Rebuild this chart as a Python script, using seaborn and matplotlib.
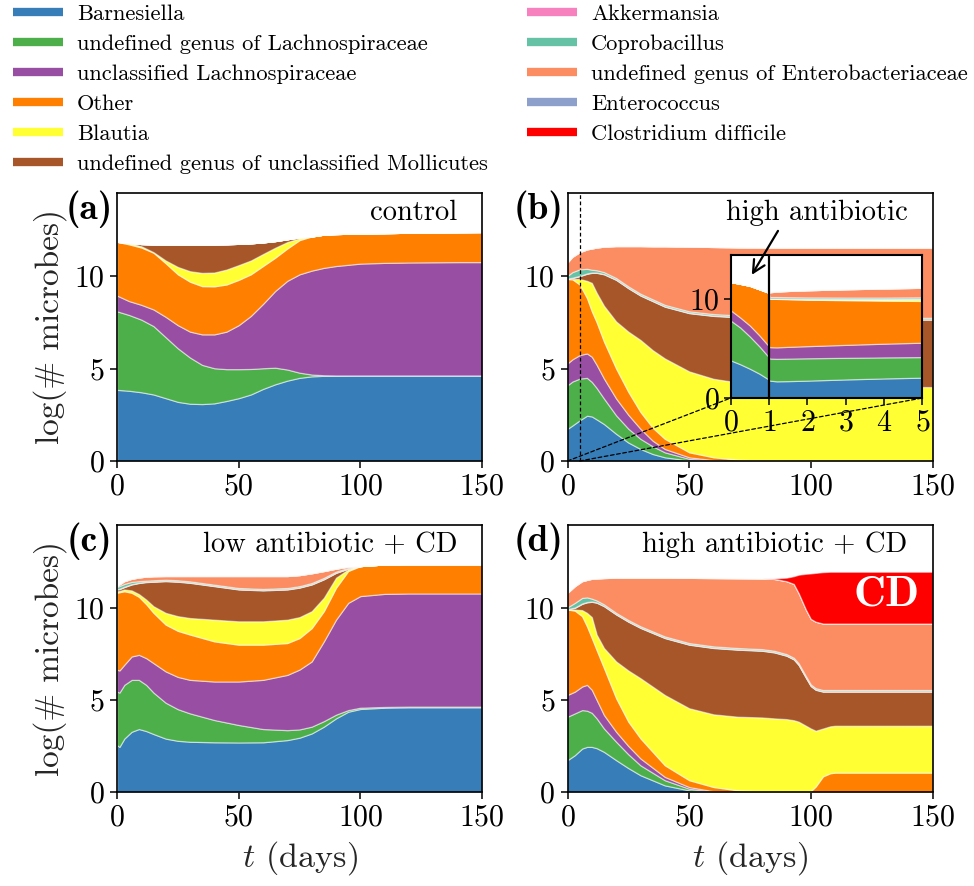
import numpy as np
import matplotlib
matplotlib.use("Agg")
import matplotlib.pyplot as plt
from matplotlib.lines import Line2D
from matplotlib.patches import ConnectionPatch
import seaborn as sns

# ---------------- data (cumulative tops of each layer; thin layers as thickness) ----------------
names = ["Barnesiella", "undefined genus of Lachnospiraceae", "unclassified Lachnospiraceae",
         "Other", "Blautia", "undefined genus of unclassified Mollicutes", "Akkermansia",
         "Coprobacillus", "undefined genus of Enterobacteriaceae", "Enterococcus",
         "Clostridium difficile"]

# (a) control
A_t = [0, 5, 10, 15, 20, 25, 30, 35, 40, 45, 50, 55, 60, 65, 70, 75, 80, 85, 90, 100, 110, 120, 130, 140, 150]
A_barn = [3.85, 3.8, 3.72, 3.6, 3.4, 3.2, 3.1, 3.08, 3.12, 3.25, 3.4, 3.6, 3.9, 4.15, 4.35, 4.5, 4.58, 4.61, 4.62, 4.63, 4.63, 4.63, 4.63, 4.63, 4.63]
A_lach = [8.1, 7.9, 7.65, 7.3, 6.7, 6.1, 5.6, 5.2, 5.02, 4.97, 4.97, 4.98, 5.02, 5.05, 4.95, 4.78, 4.68, 4.64, 4.63, 4.63, 4.63, 4.63, 4.63, 4.63, 4.63]
A_uncl = [8.95, 8.65, 8.45, 8.2, 7.8, 7.35, 7.0, 6.85, 6.85, 7.0, 7.35, 7.85, 8.5, 9.2, 9.75, 10.1, 10.3, 10.45, 10.55, 10.68, 10.72, 10.74, 10.75, 10.76, 10.76]
A_other = [11.86, 11.72, 11.55, 11.27, 10.7, 10.1, 9.7, 9.46, 9.45, 9.55, 9.8, 10.1, 10.55, 11.0, 11.5, 11.95, 12.15, 12.25, 12.28, 12.31, 12.33, 12.35, 12.37, 12.38, 12.39]
A_blaut = [11.86, 11.79, 11.62, 11.3, 10.85, 10.5, 10.27, 10.18, 10.2, 10.36, 10.6, 10.85, 11.2, 11.54, 11.85, 12.05, 12.15, 12.25, 12.28, 12.31, 12.33, 12.35, 12.37, 12.38, 12.39]
A_moll = [11.86, 11.8, 11.74, 11.72, 11.72, 11.72, 11.72, 11.72, 11.72, 11.73, 11.75, 11.78, 11.83, 11.9, 12.0, 12.1, 12.15, 12.25, 12.28, 12.31, 12.33, 12.35, 12.37, 12.38, 12.39]

# (b) high antibiotic
B_t = [0, 2, 5, 8, 10, 12, 15, 20, 25, 30, 35, 40, 50, 60, 70, 80, 90, 100, 110, 120, 130, 140, 150]
B_barn = [1.74, 1.92, 2.2, 2.45, 2.41, 2.25, 2.0, 1.47, 1.0, 0.65, 0.38, 0.2, 0.03, 0, 0, 0, 0, 0, 0, 0, 0, 0, 0]
B_lach = [4.1, 4.3, 4.46, 4.5, 4.28, 3.95, 3.38, 2.47, 1.75, 1.2, 0.8, 0.47, 0.12, 0.02, 0, 0, 0, 0, 0, 0, 0, 0, 0]
B_uncl = [5.28, 5.5, 5.73, 5.82, 5.64, 5.2, 4.46, 3.38, 2.5, 1.74, 1.1, 0.65, 0.2, 0.05, 0, 0, 0, 0, 0, 0, 0, 0, 0]
B_other = [9.85, 9.83, 9.55, 8.82, 8.1, 7.5, 6.46, 5.0, 3.74, 2.65, 1.8, 1.2, 0.47, 0.2, 0.07, 0.03, 0, 0, 0, 0, 0, 0, 0]
B_blaut = [9.85, 9.85, 9.85, 9.75, 9.64, 9.1, 8.4, 7.55, 7.0, 6.55, 6.0, 5.55, 4.85, 4.45, 4.25, 4.15, 4.1, 4.07, 4.05, 4.03, 4.02, 4.01, 4.0]
B_moll = [9.85, 9.9, 10.0, 10.13, 10.18, 10.18, 10.1, 9.8, 9.35, 8.95, 8.65, 8.35, 8.0, 7.85, 7.78, 7.74, 7.72, 7.7, 7.68, 7.67, 7.66, 7.65, 7.65]
B_akk = [0.02] * 23
B_copro = [0.15, 0.3, 0.35, 0.25, 0.15, 0.12, 0.1, 0.08, 0.08, 0.08, 0.08, 0.08, 0.08, 0.08, 0.08, 0.08, 0.08, 0.08, 0.08, 0.08, 0.08, 0.08, 0.08]
B_entb = [10.75, 11.05, 11.3, 11.45, 11.5, 11.55, 11.6, 11.63, 11.63, 11.63, 11.62, 11.62, 11.6, 11.58, 11.56, 11.55, 11.54, 11.54, 11.54, 11.54, 11.54, 11.54, 11.54]

# (b) inset: first days
I_t = [0, 0.25, 0.5, 0.75, 1.0, 1.02, 1.2, 1.5, 2, 3, 4, 5]
I_barn = [3.79, 3.4, 2.95, 2.45, 1.85, 1.75, 1.68, 1.7, 1.75, 1.87, 1.97, 2.05]
I_lach = [7.8, 7.1, 6.2, 5.2, 4.1, 3.98, 3.95, 3.97, 4.0, 4.05, 4.09, 4.12]
I_uncl = [8.83, 8.1, 7.3, 6.3, 5.2, 5.12, 5.1, 5.15, 5.22, 5.35, 5.47, 5.57]
I_other = [11.68, 11.5, 11.3, 10.95, 10.6, 10.0, 9.98, 9.95, 9.9, 9.85, 9.8, 9.77]
I_blaut = [11.68, 11.5, 11.3, 10.95, 10.6, 10.0, 10.0, 9.98, 9.96, 9.95, 9.95, 9.97]
I_moll = [11.68, 11.5, 11.3, 10.95, 10.6, 10.0, 10.0, 9.98, 9.96, 9.95, 9.95, 9.97]
I_akk = [0, 0, 0, 0, 0, 0.02, 0.02, 0.02, 0.02, 0.02, 0.02, 0.02]
I_copro = [0, 0, 0, 0, 0, 0.15, 0.15, 0.15, 0.15, 0.15, 0.15, 0.15]
I_entb = [11.68, 11.5, 11.3, 10.95, 10.6, 10.65, 10.72, 10.78, 10.85, 10.95, 11.03, 11.1]

# (c) low antibiotic + CD
C_t = [0, 1, 3, 6, 9, 12, 15, 20, 25, 30, 40, 50, 60, 70, 75, 80, 85, 90, 95, 100, 110, 120, 130, 140, 150]
C_barn = [2.55, 2.45, 2.9, 3.27, 3.42, 3.31, 3.15, 2.9, 2.78, 2.73, 2.7, 2.69, 2.7, 2.82, 2.95, 3.18, 3.55, 4.0, 4.36, 4.51, 4.58, 4.6, 4.6, 4.6, 4.6]
C_lach = [5.45, 5.4, 5.82, 6.09, 6.09, 5.82, 5.4, 4.85, 4.5, 4.27, 3.91, 3.64, 3.42, 3.36, 3.4, 3.55, 3.85, 4.2, 4.45, 4.58, 4.62, 4.64, 4.64, 4.64, 4.64]
C_uncl = [6.64, 6.6, 6.91, 7.36, 7.45, 7.27, 7.0, 6.55, 6.25, 6.09, 6.0, 6.0, 6.09, 6.36, 6.65, 7.09, 8.18, 9.36, 10.27, 10.64, 10.76, 10.78, 10.78, 10.78, 10.78]
C_other = [10.82, 10.85, 10.9, 10.82, 10.6, 10.2, 9.73, 9.09, 8.75, 8.55, 8.18, 8.0, 8.0, 8.09, 8.36, 8.9, 9.82, 11.09, 12.0, 12.27, 12.36, 12.37, 12.37, 12.37, 12.37]
C_blaut = [10.9, 10.92, 11.0, 10.95, 10.75, 10.45, 10.09, 9.73, 9.55, 9.45, 9.36, 9.27, 9.27, 9.36, 9.5, 9.82, 10.55, 11.64, 12.09, 12.27, 12.36, 12.37, 12.37, 12.37, 12.37]
C_moll = [11.0, 11.02, 11.13, 11.27, 11.35, 11.4, 11.42, 11.45, 11.42, 11.36, 11.18, 11.0, 10.95, 11.0, 11.1, 11.27, 11.55, 11.9, 12.13, 12.27, 12.36, 12.37, 12.37, 12.37, 12.37]
C_akk = [0.02, 0.02, 0.02, 0.02, 0.02, 0.02, 0.02, 0.02, 0.02, 0.02, 0.02, 0.02, 0.02, 0.02, 0.02, 0.02, 0.02, 0.02, 0.01, 0, 0, 0, 0, 0, 0]
C_copro = [0.12, 0.15, 0.15, 0.12, 0.08, 0.06, 0.06, 0.06, 0.06, 0.06, 0.06, 0.06, 0.06, 0.06, 0.06, 0.06, 0.06, 0.05, 0.03, 0, 0, 0, 0, 0, 0]
C_entb = [11.18, 11.28, 11.45, 11.58, 11.65, 11.7, 11.72, 11.73, 11.73, 11.73, 11.73, 11.73, 11.73, 11.73, 11.78, 11.88, 12.0, 12.13, 12.24, 12.27, 12.36, 12.37, 12.37, 12.37, 12.37]

# (d) high antibiotic + CD
D_t = [0, 3, 6, 8, 10, 12, 15, 20, 25, 30, 40, 50, 60, 70, 80, 85, 90, 93, 95, 98, 100, 102, 105, 108, 110, 120, 130, 140, 150]
D_barn = [1.73, 2.0, 2.36, 2.45, 2.45, 2.38, 2.18, 1.73, 1.3, 0.91, 0.36, 0.09, 0, 0, 0, 0, 0, 0, 0, 0, 0, 0, 0, 0, 0, 0, 0, 0, 0]
D_lach = [4.09, 4.27, 4.45, 4.42, 4.3, 4.0, 3.45, 2.73, 2.05, 1.45, 0.64, 0.18, 0.02, 0, 0, 0, 0, 0, 0, 0, 0, 0, 0, 0, 0, 0, 0, 0, 0]
D_uncl = [5.27, 5.45, 5.73, 5.82, 5.55, 5.0, 4.18, 3.27, 2.5, 1.82, 0.82, 0.27, 0.04, 0, 0, 0, 0, 0, 0, 0, 0, 0, 0, 0, 0, 0, 0, 0, 0]
D_other = [9.91, 9.85, 9.55, 9.0, 8.36, 7.7, 6.73, 5.09, 3.82, 2.91, 1.45, 0.64, 0.27, 0.09, 0.03, 0.01, 0, 0, 0, 0, 0.05, 0.3, 0.85, 1.02, 1.05, 1.05, 1.05, 1.05, 1.05]
D_blaut = [9.91, 9.91, 9.88, 9.73, 9.5, 8.55, 7.82, 7.09, 6.6, 6.18, 5.27, 4.55, 4.22, 4.09, 4.05, 4.0, 3.96, 3.9, 3.82, 3.6, 3.45, 3.33, 3.45, 3.57, 3.6, 3.6, 3.6, 3.6, 3.6]
D_moll = [9.91, 10.0, 10.22, 10.3, 10.33, 10.28, 10.09, 9.64, 9.25, 8.91, 8.36, 8.0, 7.82, 7.73, 7.67, 7.58, 7.4, 7.2, 6.9, 6.2, 5.75, 5.55, 5.45, 5.45, 5.45, 5.45, 5.45, 5.45, 5.45]
D_akk = [0.02] * 29
D_copro = [0.1, 0.25, 0.3, 0.25, 0.15, 0.1, 0.08] + [0.07] * 22
D_entb = [10.82, 11.18, 11.45, 11.52, 11.58, 11.6, 11.62, 11.64, 11.64, 11.64, 11.64, 11.63, 11.62, 11.61, 11.6, 11.57, 11.45, 11.3, 10.8, 9.9, 9.4, 9.25, 9.15, 9.15, 9.15, 9.15, 9.15, 9.15, 9.15]
D_cd = [10.82, 11.18, 11.45, 11.52, 11.58, 11.6, 11.62, 11.64, 11.64, 11.64, 11.64, 11.63, 11.62, 11.61, 11.6, 11.6, 11.64, 11.72, 11.8, 11.85, 11.87, 11.9, 11.94, 11.96, 11.96, 11.96, 11.96, 11.96, 11.96]

# ---------------- style ----------------
sns.set_theme(style="ticks")
plt.rcParams.update({
    "font.family": "serif",
    "font.serif": ["cmr10"],
    "mathtext.fontset": "cm",
    "axes.unicode_minus": False,
    "axes.formatter.use_mathtext": True,
    "axes.edgecolor": "black",
    "axes.linewidth": 1.2,
    "xtick.color": "black",
    "ytick.color": "black",
    "xtick.major.size": 5,
    "ytick.major.size": 5,
    "xtick.major.width": 1.1,
    "ytick.major.width": 1.1,
    "xtick.direction": "out",
    "ytick.direction": "out",
    "xtick.labelsize": 21.5,
    "ytick.labelsize": 21.5,
    "text.color": "black",
})

set1 = sns.color_palette("Set1", 9)
set2 = sns.color_palette("Set2", 8)
colors = [set1[1], set1[2], set1[3], set1[4], set1[5], set1[6], set1[7],
          set2[0], set2[1], set2[2], (1.0, 0.0, 0.0)]


def build_layers(barn, lach, uncl, other, blaut, moll, akk=None, copro=None,
                 entb=None, entc=None, cd=None):
    n = len(barn)
    z = np.zeros(n)
    arr = lambda v: z.copy() if v is None else np.asarray(v, float)
    tops = []
    cur = z.copy()
    for v in (barn, lach, uncl, other, blaut, moll):
        cur = np.maximum(arr(v), cur)
        tops.append(cur)
    cur = cur + arr(akk); tops.append(cur)
    cur = cur + arr(copro); tops.append(cur)
    cur = np.maximum(arr(entb), cur); tops.append(cur)
    cur = cur + arr(entc); tops.append(cur)
    cur = np.maximum(arr(cd), cur); tops.append(cur)
    tops = np.vstack(tops)
    return np.diff(np.vstack([z, tops]), axis=0)


def draw(ax, t, layers):
    ax.stackplot(t, *layers, colors=colors, edgecolor=(1, 1, 1, 0.5), linewidth=0.9)


W, H = 974, 886
fig = plt.figure(figsize=(W / 100, H / 100), dpi=100)


def fx(px):
    return px / W


def fy(py):
    return 1 - py / H


ax_w = fx(365)
boxes = {
    "a": [fx(117), fy(461), ax_w, fy(193) - fy(461)],
    "b": [fx(567.5), fy(461), ax_w, fy(193) - fy(461)],
    "c": [fx(117), fy(792), ax_w, fy(525) - fy(792)],
    "d": [fx(567.5), fy(792), ax_w, fy(525) - fy(792)],
}
axes = {k: fig.add_axes(v) for k, v in boxes.items()}

draw(axes["a"], A_t, build_layers(A_barn, A_lach, A_uncl, A_other, A_blaut, A_moll))
draw(axes["b"], B_t, build_layers(B_barn, B_lach, B_uncl, B_other, B_blaut, B_moll,
                                  B_akk, B_copro, B_entb))
draw(axes["c"], C_t, build_layers(C_barn, C_lach, C_uncl, C_other, C_blaut, C_moll,
                                  C_akk, C_copro, C_entb))
draw(axes["d"], D_t, build_layers(D_barn, D_lach, D_uncl, D_other, D_blaut, D_moll,
                                  D_akk, D_copro, D_entb, None, D_cd))

titles = {"a": "control", "b": "high antibiotic", "c": "low antibiotic + CD",
          "d": "high antibiotic + CD"}
for k, ax in axes.items():
    ax.set_xlim(0, 150)
    ax.set_ylim(0, 14.5)
    ax.set_xticks([0, 50, 100, 150])
    ax.set_yticks([0, 5, 10])
    for s in ax.spines.values():
        s.set_visible(True)
        s.set_color("black")
        s.set_linewidth(1.2)
    ax.tick_params(top=False, right=False, pad=4)
    ax.text(-0.012, 1.01, f"({k})", transform=ax.transAxes, ha="right", va="top",
            fontsize=27, family="cmb10")
    ax.text(0.932, 0.925, titles[k], transform=ax.transAxes, ha="right", va="center",
            fontsize=20.5, zorder=5)

for k in ("a", "c"):
    axes[k].set_ylabel("log(# microbes)", fontsize=24, labelpad=5)
for k in ("c", "d"):
    axes[k].set_xlabel("$t$ (days)", fontsize=24.5, labelpad=5)

# CD label in panel (d)
axes["d"].text(131, 10.7, "CD", color="white", fontsize=32, family="cmb10",
               ha="center", va="center")

# inset in panel (b)
ax_b = axes["b"]
ax_b.axvline(5, color="black", ls=(0, (3, 2)), lw=0.9)
ax_in = fig.add_axes([fx(730.7), fy(398), fx(922.3) - fx(730.7), fy(255) - fy(398)])
draw(ax_in, I_t, build_layers(I_barn, I_lach, I_uncl, I_other, I_blaut, I_moll,
                              I_akk, I_copro, I_entb))
ax_in.set_xlim(0, 5)
ax_in.set_ylim(0, 14.4)
ax_in.set_xticks([0, 1, 2, 3, 4, 5])
ax_in.set_yticks([0, 10])
ax_in.set_facecolor("white")
for s in ax_in.spines.values():
    s.set_visible(True)
    s.set_color("black")
    s.set_linewidth(1.5)
ax_in.tick_params(labelsize=21.5, pad=3)
ax_in.axvline(1, color="black", lw=1.6)

for xa, xb in ((0, 0), (5, 5)):
    con = ConnectionPatch(xyA=(xa, 0), coordsA=ax_b.transData,
                          xyB=(xb, 0), coordsB=ax_in.transData,
                          ls=(0, (3, 2)), lw=0.9, color="black")
    fig.add_artist(con)

ax_in.annotate("", xy=(0.55, 12.4), xycoords="data",
               xytext=(86.5, 12.45), textcoords=ax_b.transData,
               arrowprops=dict(arrowstyle="->", lw=1.6, color="black",
                               mutation_scale=22, shrinkA=0, shrinkB=0),
               annotation_clip=False)

# legend
handles = [Line2D([0], [0], color=c, lw=6, solid_capstyle="butt") for c in colors]
leg_kw = dict(frameon=False, fontsize=16.2, handlelength=2.2, handletextpad=0.65,
              labelspacing=0.46, borderpad=0, borderaxespad=0, loc="upper left")
fig.legend(handles[:6], names[:6], bbox_to_anchor=(fx(13), fy(4)), **leg_kw)
fig.legend(handles[6:], names[6:], bbox_to_anchor=(fx(527), fy(4)), **leg_kw)

fig.savefig("out.png", dpi=100)
